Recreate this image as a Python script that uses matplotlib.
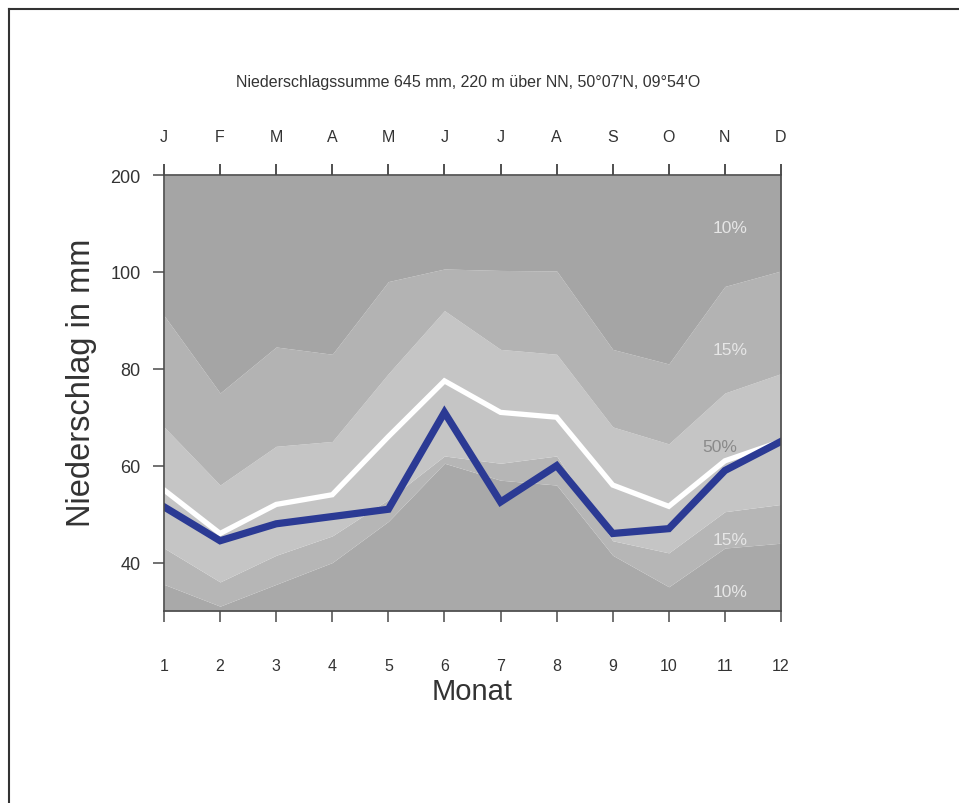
import numpy as np
import matplotlib.pyplot as plt
from matplotlib.lines import Line2D

plt.rcParams["font.family"] = ["Liberation Sans", "DejaVu Sans"]

months = np.arange(1, 13)
month_letters = ["J", "F", "M", "A", "M", "J", "J", "A", "S", "O", "N", "D"]

# quantile boundaries (mm)
q10 = [35.5, 31, 35.5, 40, 48.5, 60.5, 57, 56, 41.5, 35, 43, 44]
q25 = [43, 36, 41.5, 45.5, 53, 62, 60.5, 62, 44.5, 42, 50.5, 52]
q75 = [68, 56, 64, 65, 79, 92, 84, 83, 68, 64.5, 75, 79]
q90 = [91, 75, 84.5, 83, 98, 103, 101.5, 101, 84, 81, 97, 101]
median = [55, 46, 52, 54, 66, 77.5, 71, 70, 56, 51.6, 61, 65]
station = [51.5, 44.5, 48, 49.5, 51, 71, 52.5, 60, 46, 47, 59, 65]

band_labels = ["10%", "15%", "50%", "15%", "10%"]
band_label_y = [146, 84, 64, 44.8, 34]
band_label_x = [11.1, 11.1, 10.9, 11.1, 11.1]


def forward(y):
    y = np.asarray(y, dtype=float)
    return np.where(y <= 100, y, 100 + (y - 100) / 5.0)


def inverse(y):
    y = np.asarray(y, dtype=float)
    return np.where(y <= 100, y, 100 + (y - 100) * 5.0)


fig = plt.figure(figsize=(9.59, 8.04), dpi=100)
ax = fig.add_axes([164 / 959, 1 - 612 / 804, (781 - 164) / 959, (612 - 176) / 804])
ax.set_yscale("function", functions=(forward, inverse))
ax.set_xlim(1, 12)
ax.set_ylim(30, 200)

ax.fill_between(months, 30, q10, color="#a9a9a9", lw=0)
ax.fill_between(months, q10, q25, color="#b6b6b6", lw=0)
ax.fill_between(months, q25, q75, color="#c5c5c5", lw=0)
ax.fill_between(months, q75, q90, color="#b3b3b3", lw=0)
ax.fill_between(months, q90, 200, color="#a5a5a5", lw=0)

ax.plot(months, median, color="white", lw=3.8, solid_joinstyle="miter")
ax.plot(months, station, color="#2b3a94", lw=5.2, solid_joinstyle="miter")

label_colors = ["#e6e6e6", "#e6e6e6", "#8a8a8a", "#e6e6e6", "#e6e6e6"]
for lab, xx, yy, c in zip(band_labels, band_label_x, band_label_y, label_colors):
    ax.text(xx, yy, lab, color=c, fontsize=12.5, ha="center", va="center")

for sp in ax.spines.values():
    sp.set_color("#4a4a4a")
    sp.set_linewidth(1.2)

ax.set_xticks(months)
ax.set_xticklabels([str(m) for m in months])
ax.set_yticks([40, 60, 80, 100, 200])
ax.set_yticklabels(["40", "60", "80", "100", "200"])
ax.tick_params(axis="x", which="both", direction="out", length=8, width=1.1,
               color="#4a4a4a", labelsize=11.5, pad=26, labelcolor="#333333",
               top=True, labeltop=False)
ax.tick_params(axis="y", direction="out", length=8, width=1.1,
               color="#4a4a4a", labelsize=13, pad=9, labelcolor="#333333")

top = ax.secondary_xaxis("top")
top.set_xticks(months)
top.set_xticklabels(month_letters)
top.tick_params(length=8, width=1.1, color="#4a4a4a", labelsize=11.5, pad=14,
                labelcolor="#333333")
top.spines["top"].set_visible(False)

ax.set_xlabel("Monat", fontsize=21, color="#333333", labelpad=3)
ax.set_ylabel("Niederschlag in mm", fontsize=23.5, color="#333333")
ax.yaxis.set_label_coords((97 - 164) / 617, (612 - 383) / 436)

fig.text(468 / 959, 1 - 82 / 804,
         "Niederschlagssumme 645 mm, 220 m über NN, 50°07'N, 09°54'O",
         fontsize=11.5, ha="center", va="center", color="#333333")

fig.add_artist(Line2D([9 / 959, 9 / 959], [0, 1 - 10 / 804], color="#333333", lw=1.5))
fig.add_artist(Line2D([9 / 959, 1], [1 - 10 / 804, 1 - 10 / 804], color="#333333", lw=1.5))

fig.savefig("out.png", dpi=100)
